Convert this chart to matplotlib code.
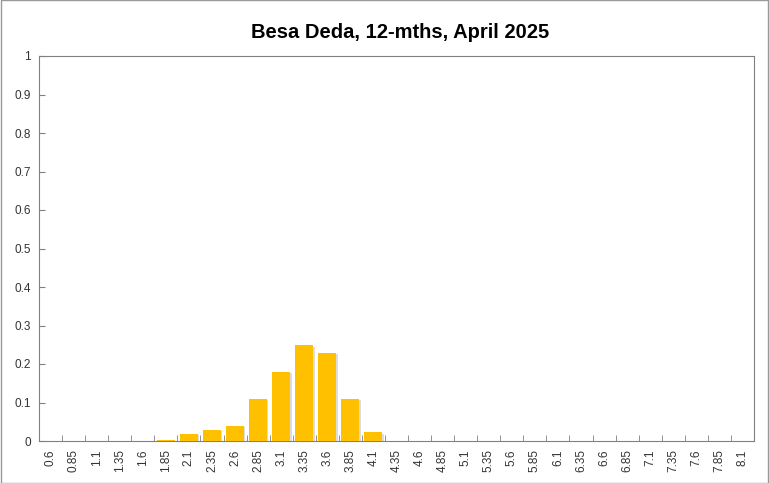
import matplotlib.pyplot as plt
import matplotlib.patheffects as pe
import numpy as np

plt.rcParams['font.family'] = ['Liberation Sans', 'DejaVu Sans']

title = "Besa Deda, 12-mths, April 2025"
categories = ["0.6", "0.85", "1.1", "1.35", "1.6", "1.85", "2.1", "2.35", "2.6", "2.85",
              "3.1", "3.35", "3.6", "3.85", "4.1", "4.35", "4.6", "4.85", "5.1", "5.35",
              "5.6", "5.85", "6.1", "6.35", "6.6", "6.85", "7.1", "7.35", "7.6", "7.85", "8.1"]
probs = [0, 0, 0, 0, 0, 0.003, 0.018, 0.029, 0.039, 0.109,
         0.179, 0.249, 0.229, 0.109, 0.023, 0, 0, 0, 0, 0,
         0, 0, 0, 0, 0, 0, 0, 0, 0, 0, 0]
yticks = [0, 0.1, 0.2, 0.3, 0.4, 0.5, 0.6, 0.7, 0.8, 0.9, 1]

fig = plt.figure(figsize=(7.69, 4.83), dpi=100)
ax = fig.add_axes([39/769, 1 - 441/483, 715/769, 385/483])

x = np.arange(len(categories))
bars = ax.bar(x, probs, width=0.78, color="#FFC000", zorder=3)
for b in bars:
    b.set_path_effects([pe.SimplePatchShadow(offset=(1, -1), shadow_rgbFace="#aaaaaa", alpha=0.4), pe.Normal()])

ax.set_xlim(-0.5, len(categories) - 0.5)
ax.set_ylim(0, 1)
ax.set_yticks(yticks)
ax.set_yticklabels([f"{v:g}" for v in yticks], fontsize=8.5, color="#333333")
ax.set_xticks(x)
ax.set_xticklabels(categories, rotation=90, fontsize=8.5, color="#333333")
ax.set_xticks(np.arange(-0.5, len(categories), 1), minor=True)
ax.tick_params(axis="x", which="major", length=0, pad=6)
ax.tick_params(axis="x", which="minor", direction="in", length=4, color="#808080")
ax.tick_params(axis="y", direction="in", length=4, color="#808080", pad=6)

for s in ax.spines.values():
    s.set_color("#808080")
    s.set_linewidth(0.8)

fig.text(0.52, 1 - 32/483, title, ha="center", va="center", fontsize=14.5, fontweight="bold")
fig.patches.append(plt.Rectangle((0.001, 0.001), 0.998, 0.998, transform=fig.transFigure,
                                 fill=False, edgecolor="#999999", linewidth=1))

fig.savefig("out.png", dpi=100)
